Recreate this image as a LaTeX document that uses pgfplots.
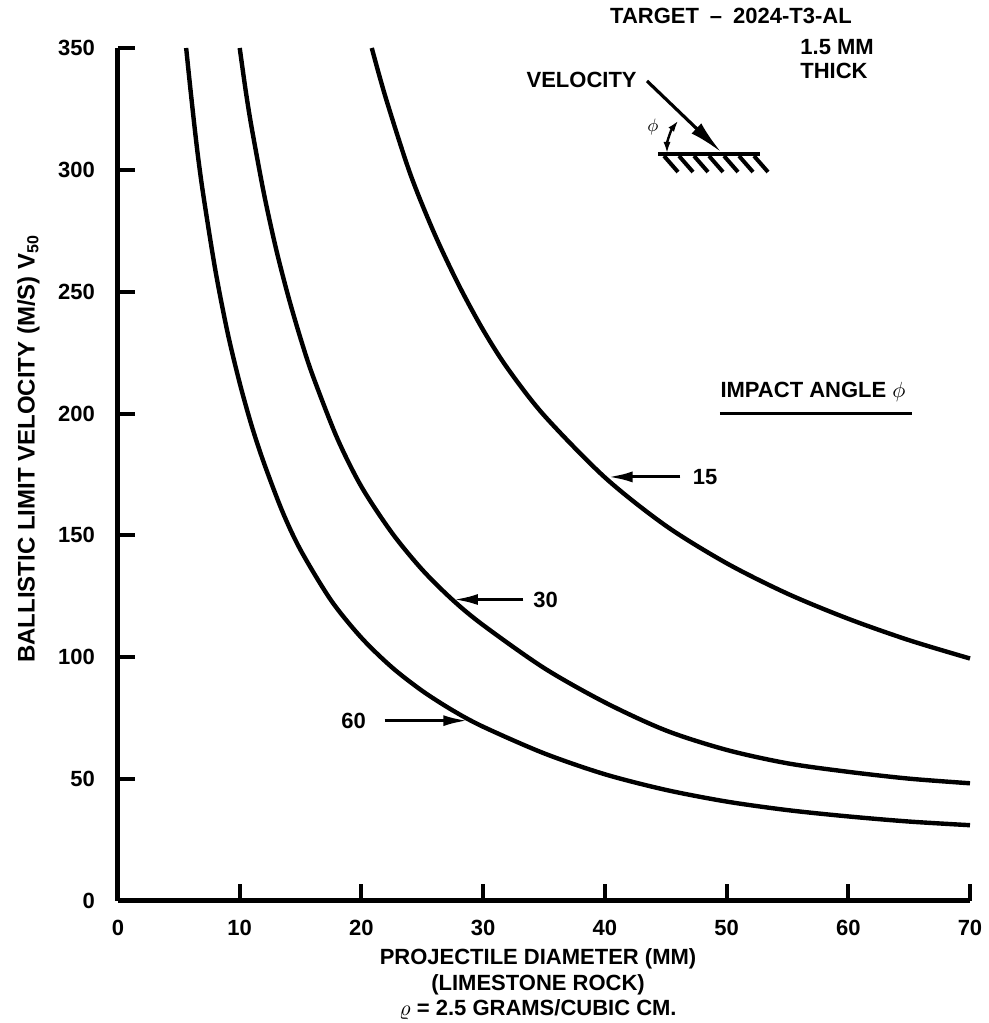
\documentclass[border=0pt]{standalone}
\usepackage{fontspec}
\setmainfont{Liberation Sans}
\usepackage{pgfplots}
\usepackage{pgfplotstable}
\pgfplotsset{compat=1.18}
\usetikzlibrary{arrows.meta}

% impact angle 15 deg
\pgfplotstableread{
d v
20.85 350
22 329.5
24 298.5
26 273.8
28 252.7
30 234.3
32 218.6
35 199.3
40 173.8
45 154
50 138.6
55 126.1
60 115.8
65 107
70 99.5
}\angleA

% impact angle 30 deg
\pgfplotstableread{
d v
10.0 350
10.5 332.2
11 316.8
12 290
13 267.3
14 247.9
15 230.8
16 215.6
18 190
20 170
22.5 151.1
25 135.9
27.5 123.5
30 113.2
35 95.6
40 81.5
45 70
50 62
55 56.5
60 53
65 50.2
70 48.3
}\angleB

% impact angle 60 deg
\pgfplotstableread{
d v
5.6 350
6 330.8
6.5 308.5
7 290
8 258.8
9 233.3
10 212.5
11 194.7
12 179.6
13.5 159.9
15 144
17.5 123.4
20 108
22.5 95.9
25 86.2
27.5 78.2
30 71.5
35 60.6
40 52
45 45.6
50 40.8
55 37.3
60 34.7
65 32.6
70 31.1
}\angleC

\begin{document}
\begin{tikzpicture}[font=\fontsize{11}{13}\selectfont\bfseries]
\begin{axis}[
  scale only axis,
  width=426pt, height=426.5pt,
  xmin=0, xmax=70, ymin=0, ymax=350,
  axis lines=left,
  axis line style={-, line width=2.5pt},
  xtick={0,10,...,70},
  ytick={0,50,...,350},
  tick align=inside,
  major tick length=8.5pt,
  tick style={black, line width=2pt},
  /pgf/number format/assume math mode=true,
  ticklabel style={font=\fontsize{11}{13}\selectfont\bfseries},
  xticklabel style={yshift=-6pt},
  yticklabel style={xshift=-8pt},
  clip=false,
  xlabel={PROJECTILE DIAMETER (MM)\\(LIMESTONE ROCK)\\$\varrho$ = 2.5 GRAMS/CUBIC CM.},
  xlabel style={align=center, at={(axis description cs:0.493,-0.048)}, anchor=north,
    font=\fontsize{11}{12.75}\selectfont\bfseries},
  ylabel={BALLISTIC LIMIT VELOCITY (M/S) V$_{\mathbf{50}}$},
  ylabel style={at={(axis description cs:-0.105,0.53)}, anchor=center,
    font=\fontsize{12}{14}\selectfont\bfseries},
]
\addplot[black, line width=2.2pt, smooth] table[x=d, y=v] {\angleA};
\addplot[black, line width=2.2pt, smooth] table[x=d, y=v] {\angleB};
\addplot[black, line width=2.2pt, smooth] table[x=d, y=v] {\angleC};

% curve labels
\draw[line width=1.5pt, -{Latex[length=12pt,width=5.5pt]}] (axis cs:46.2,174) -- (axis cs:40.3,174);
\node[anchor=west, inner sep=0] at (axis cs:47.2,174) {15};
\draw[line width=1.5pt, -{Latex[length=12pt,width=5.5pt]}] (axis cs:33.3,123.7) -- (axis cs:27.6,123.7);
\node[anchor=west, inner sep=0] at (axis cs:34.1,123.7) {30};
\draw[line width=1.5pt, -{Latex[length=12pt,width=5.5pt]}] (axis cs:21.9,74) -- (axis cs:28.7,74);
\node[anchor=east, inner sep=0] at (axis cs:20.4,74) {60};

\node at (axis cs:57.1,208.9) {IMPACT ANGLE $\phi$};
\draw[line width=1.5pt] (axis cs:49.46,200.2) -- (axis cs:65.24,200.2);

\coordinate (TL) at (axis cs:-9.695,369.7);
\coordinate (BR) at (axis cs:71.48,-50.06);
\end{axis}
\pgfresetboundingbox
\path[use as bounding box] (TL) rectangle (BR);

% target sketch, in picture pixels
\begin{scope}[shift={(TL)}, x=0.5pt, y=-0.5pt, every node/.style={inner sep=0}]
  \node at (731,16) {TARGET\enspace--\enspace2024-T3-AL};
  \node[anchor=west] at (800,47) {1.5 MM};
  \node[anchor=west] at (800,71) {THICK};
  \node[anchor=east] at (637,80) {VELOCITY};
  \draw[line width=1.6pt, -{Latex[length=17pt,width=7pt]}] (647,81) -- (721,152);
  \draw[line width=2.2pt] (658,154) -- (760,154);
  \foreach \h in {664,679,...,754} \draw[line width=2pt] (\h,156) -- ++(14,16);
  \draw[line width=1.2pt, {Latex[length=6pt,width=3.5pt]}-{Latex[length=6pt,width=3.5pt]}]
    (667,154) arc[start angle=180, end angle=218, radius=55];
  \node at (653,127) {\fontsize{9}{9}\selectfont$\phi$};
\end{scope}
\end{tikzpicture}
\end{document}
